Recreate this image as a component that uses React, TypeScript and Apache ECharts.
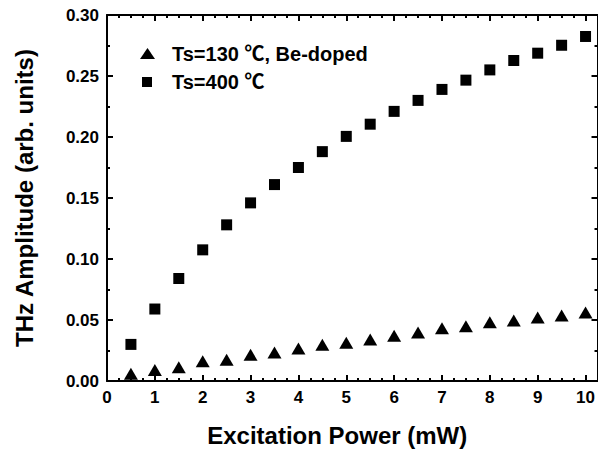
import React, { useEffect, useRef } from "react";
import * as echarts from "echarts";

const powers = [0.5, 1, 1.5, 2, 2.5, 3, 3.5, 4, 4.5, 5, 5.5, 6, 6.5, 7, 7.5, 8, 8.5, 9, 9.5, 10];
const beDoped = [0.006, 0.009, 0.0113, 0.0162, 0.0174, 0.0215, 0.0234, 0.0266, 0.0297, 0.0313, 0.034, 0.037, 0.0398, 0.0433, 0.0449, 0.0482, 0.0496, 0.052, 0.0537, 0.0561];
const ts400 = [0.030, 0.059, 0.084, 0.1075, 0.128, 0.146, 0.161, 0.175, 0.188, 0.2005, 0.2105, 0.221, 0.230, 0.239, 0.2466, 0.255, 0.2627, 0.2687, 0.2752, 0.2824];
const seriesNames = ["Ts=130 \u2103, Be-doped", "Ts=400 \u2103"];

const FONT = "'Liberation Sans', 'Noto Sans CJK SC', Arial, Helvetica, sans-serif";

export default function App() {
  const ref = useRef<HTMLDivElement>(null);
  useEffect(() => {
    document.body.style.margin = "0";
    const chart = echarts.init(ref.current!, null, { renderer: "svg" });
    const axisLine = { show: true, onZero: false, lineStyle: { color: "#000", width: 2 } };
    const tickIn = { show: true, inside: true, length: 6, lineStyle: { color: "#000", width: 2 } };
    const minorIn = { show: true, splitNumber: 2, length: 3, lineStyle: { color: "#000", width: 2 } };
    const xMinor = { show: true, splitNumber: 4, length: 3, lineStyle: { color: "#000", width: 2 } };
    const labelStyle = { color: "#000", fontFamily: FONT, fontWeight: "bold" as const, fontSize: 17 };
    const titleStyle = { color: "#000", fontFamily: FONT, fontWeight: "bold" as const, fontSize: 24 };
    const legendText = { fill: "#000", fontFamily: FONT, fontWeight: "bold", fontSize: 20 };
    chart.setOption({
      animation: false,
      backgroundColor: "#fff",
      textStyle: { fontFamily: FONT },
      grid: { left: 107, top: 15, right: 0, bottom: 76, containLabel: false },
      graphic: [
        { type: "polygon", shape: { points: [[140, 59], [155, 59], [147.5, 48]] }, style: { fill: "#000" } },
        { type: "rect", shape: { x: 142, y: 77, width: 10, height: 10 }, style: { fill: "#000" } },
        { type: "text", x: 172, y: 54, style: { ...legendText, text: seriesNames[0], verticalAlign: "middle" } },
        { type: "text", x: 172, y: 82, style: { ...legendText, text: seriesNames[1], verticalAlign: "middle" } },
      ],
      xAxis: [
        {
          type: "value",
          min: 0,
          max: 10.25,
          interval: 1,
          position: "bottom",
          name: "Excitation Power (mW)",
          nameLocation: "middle",
          nameGap: 42,
          nameTextStyle: { ...titleStyle, padding: [0, 30, 0, 0] },
          axisLine,
          axisTick: tickIn,
          minorTick: xMinor,
          axisLabel: { ...labelStyle, margin: 8, showMaxLabel: false },
          splitLine: { show: false },
        },
        {
          type: "value",
          min: 0,
          max: 10.25,
          interval: 1,
          position: "top",
          axisLine,
          axisTick: tickIn,
          minorTick: xMinor,
          axisLabel: { show: false },
          splitLine: { show: false },
        },
      ],
      yAxis: [
        {
          type: "value",
          min: 0,
          max: 0.3,
          interval: 0.05,
          position: "left",
          name: "THz Amplitude (arb. units)",
          nameLocation: "middle",
          nameGap: 71,
          nameTextStyle: titleStyle,
          axisLine,
          axisTick: tickIn,
          minorTick: minorIn,
          axisLabel: { ...labelStyle, margin: 8, formatter: (v: number) => v.toFixed(2) },
          splitLine: { show: false },
        },
        {
          type: "value",
          min: 0,
          max: 0.3,
          interval: 0.05,
          position: "right",
          axisLine,
          axisTick: tickIn,
          minorTick: minorIn,
          axisLabel: { show: false },
          splitLine: { show: false },
        },
      ],
      series: [
        {
          name: seriesNames[0],
          type: "scatter",
          symbol: "triangle",
          symbolSize: [14, 12],
          itemStyle: { color: "#000", opacity: 1 },
          data: powers.map((p, i) => [p, beDoped[i]]),
        },
        {
          name: seriesNames[1],
          type: "scatter",
          symbol: "rect",
          symbolSize: 11,
          itemStyle: { color: "#000", opacity: 1 },
          data: powers.map((p, i) => [p, ts400[i]]),
        },
      ],
    });
    return () => chart.dispose();
  }, []);
  return <div ref={ref} style={{ width: 598, height: 457 }} />;
}
